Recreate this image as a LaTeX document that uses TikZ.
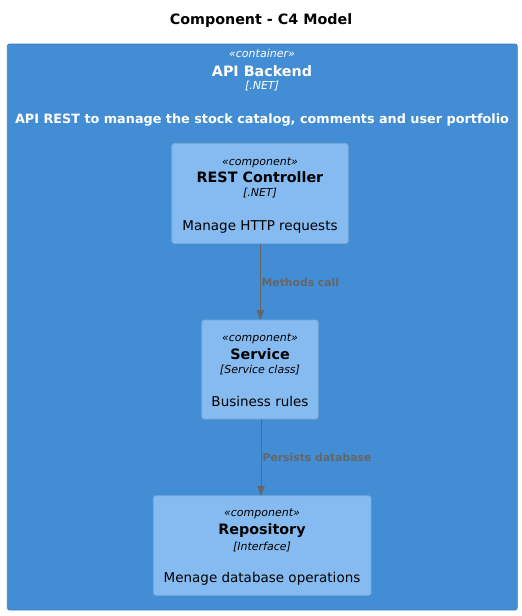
\documentclass[tikz,border=0pt]{standalone}
\usepackage{fontspec}
\setmainfont{DejaVu Sans}
\usetikzlibrary{arrows.meta}
\definecolor{contfill}{HTML}{438DD5}
\definecolor{contline}{HTML}{3C7FC0}
\definecolor{compfill}{HTML}{85BBF0}
\definecolor{compline}{HTML}{78A8D8}
\definecolor{relcol}{HTML}{666666}
\tikzset{
  contbox/.style={draw=contline, fill=contfill, line width=0.8pt, rounded corners=2.5pt, inner sep=0pt, outer sep=0pt},
  compbox/.style={draw=compline, fill=compfill, line width=0.8pt, rounded corners=2.5pt, inner sep=0pt, outer sep=0pt},
  txt/.style={anchor=base, inner sep=0pt, outer sep=0pt},
  stereo/.style={txt, font=\fontsize{11}{13}\selectfont\itshape},
  cname/.style={txt, font=\fontsize{14.3}{17}\selectfont\bfseries},
  tech/.style={txt, font=\fontsize{11}{13}\selectfont\itshape},
  cdesc/.style={txt, font=\fontsize{13.5}{16}\selectfont},
  rellabel/.style={anchor=base west, inner sep=0pt, outer sep=0pt, text=relcol, font=\fontsize{10.8}{13}\selectfont\bfseries},
  rel/.style={draw=relcol, line width=0.9pt, -{Triangle[length=10pt,width=7.5pt]}},
}
\begin{document}
\begin{tikzpicture}[x=1pt,y=-1pt]
\useasboundingbox (0,0) rectangle (522,616);
% title
\node[txt, font=\fontsize{14.3}{17}\selectfont\bfseries] (title) at (261,24) {Component - C4 Model};
% container
\node[contbox, minimum width=510pt, minimum height=566pt] (cont) at (262.3,327) {};
\node[stereo, text=white] (contst) at (262,57) {«container»};
\node[cname, text=white] (contname) at (262,76) {API Backend};
\node[tech, text=white] (conttech) at (262,89.5) {[.NET]};
\node[txt, text=white, font=\fontsize{12.8}{15}\selectfont\bfseries] (contdesc) at (262,123) {API REST to manage the stock catalog, comments and user portfolio};
% REST controller
\node[compbox, minimum width=176.3pt, minimum height=100pt] (rest) at (260,193.5) {};
\node[stereo] (restst) at (260,165) {«component»};
\node[cname] (restname) at (260,182.7) {REST Controller};
\node[tech] (resttech) at (260,196) {[.NET]};
\node[cdesc] (restdesc) at (260,230.7) {Manage HTTP requests};
% Service
\node[compbox, minimum width=116.3pt, minimum height=99pt] (svc) at (260,369.5) {};
\node[stereo] (svcst) at (260,341) {«component»};
\node[cname] (svcname) at (260,359) {Service};
\node[tech] (svctech) at (260,373) {[Service class]};
\node[cdesc] (svcdesc) at (260,406.7) {Business rules};
% Repository
\node[compbox, minimum width=217.7pt, minimum height=99.5pt] (repo) at (262.2,545.5) {};
\node[stereo] (repost) at (262,516.7) {«component»};
\node[cname] (reponame) at (262,534) {Repository};
\node[tech] (repotech) at (262,550) {[Interface]};
\node[cdesc] (repodesc) at (262,582) {Menage database operations};
% relations
\coordinate (a1s) at (260.3,243.5);
\coordinate (a2s) at (261,419);
\draw[rel] (rest.south -| a1s) -- (a1s |- svc.north);
\draw[rel] (svc.south -| a2s) -- (a2s |- repo.north);
\node[rellabel] (lab1) at (261.7,286) {Methods call};
\node[rellabel] (lab2) at (262.7,461.7) {Persists database};
\end{tikzpicture}
\end{document}
